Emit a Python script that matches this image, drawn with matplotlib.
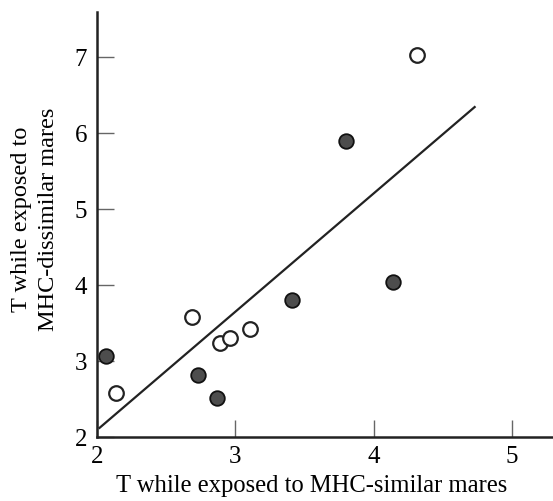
import matplotlib
matplotlib.use("Agg")
import matplotlib.pyplot as plt

plt.rcParams['font.family'] = ['Liberation Serif', 'DejaVu Serif']

# open circles
open_x = [4.31, 2.69, 2.14, 2.89, 2.96, 3.11]
open_y = [7.03, 3.58, 2.58, 3.24, 3.30, 3.42]
# filled circles
fill_x = [2.07, 2.73, 2.87, 3.41, 4.14, 3.80]
fill_y = [3.07, 2.82, 2.51, 3.80, 4.04, 5.89]
# fitted line ends
line_x = [2.02, 4.73]
line_y = [2.12, 6.34]

xticks = [2, 3, 4, 5]
yticks = [2, 3, 4, 5, 6, 7]

fig = plt.figure(figsize=(5.53, 5.02), dpi=100)
ax = fig.add_axes([0.175, 0.1275, 0.825, 0.8466])

ax.plot(line_x, line_y, color='#222222', lw=1.6)
ax.plot(open_x, open_y, 'o', ms=10.5, mfc='white', mec='#222222', mew=1.6, ls='none')
ax.plot(fill_x, fill_y, 'o', ms=10.5, mfc='#4d4d4d', mec='#111111', mew=1.3, ls='none')

ax.set_xlim(2, 5.296)
ax.set_ylim(2, 7.59)
ax.set_xticks(xticks)
ax.set_yticks(yticks)
ax.tick_params(direction='in', length=12, width=1.0, color='#666666',
               labelsize=18)
ax.tick_params(axis='x', pad=6)
ax.tick_params(axis='y', pad=7)
for s in ['top', 'right']:
    ax.spines[s].set_visible(False)
for s in ['left', 'bottom']:
    ax.spines[s].set_linewidth(1.8)
    ax.spines[s].set_color('#222222')

ax.set_xlabel('T while exposed to MHC-similar mares', fontsize=17.7)
ax.xaxis.set_label_coords(0.472, -0.088)
ax.set_ylabel('T while exposed to\nMHC-dissimilar mares', fontsize=17.5,
              linespacing=1.35)
ax.yaxis.set_label_coords(-0.083, 0.515)

fig.savefig('out.png', dpi=100)
